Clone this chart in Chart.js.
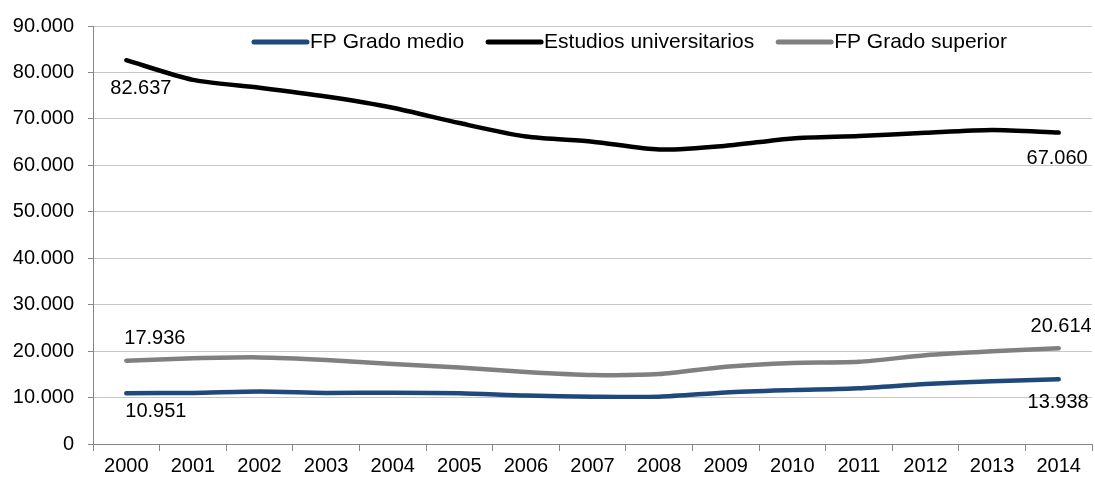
<!DOCTYPE html>
<html>
<head>
<meta charset="utf-8">
<script src="https://cdn.jsdelivr.net/npm/chart.js@4"></script>
<style>
  body { margin: 0; background: #fff; }
  #wrap { width: 1095px; height: 480px; }
</style>
</head>
<body>
<div id="wrap"><canvas id="chart"></canvas></div>
<script>
const years = ["2000", "2001", "2002", "2003", "2004", "2005", "2006", "2007",
               "2008", "2009", "2010", "2011", "2012", "2013", "2014"];
const gradoMedio = [10951, 11000, 11300, 11000, 11050, 10950, 10450, 10200,
                    10200, 11100, 11600, 12000, 12900, 13500, 13938];
const universitarios = [82637, 78400, 76700, 74800, 72400, 69100, 66200, 65100,
                        63400, 64200, 65800, 66300, 67000, 67600, 67060];
const gradoSuperior = [17936, 18450, 18650, 18100, 17200, 16450, 15500, 14850,
                       15050, 16650, 17450, 17700, 19100, 19950, 20614];
const yTicks = [0, 10000, 20000, 30000, 40000, 50000, 60000, 70000, 80000, 90000];

const FONT = "'Liberation Sans', Arial, sans-serif";

function fmt(v) {
    return String(v).replace(/\B(?=(\d{3})+(?!\d))/g, ".");
}

// label offsets for first / last point of each series [dx, dy]
const endLabels = [
    { first: [-1, 18], last: [30, 23] },
    { first: [-16, 28], last: [29, 26] },
    { first: [-2, -22], last: [33, -22] }
];

const endLabelPlugin = {
    id: "endLabels",
    afterDatasetsDraw(chart) {
        const ctx = chart.ctx;
        ctx.save();
        ctx.font = "20px " + FONT;
        ctx.fillStyle = "#000";
        ctx.textBaseline = "middle";
        chart.data.datasets.forEach((ds, i) => {
            const pts = chart.getDatasetMeta(i).data;
            const p0 = pts[0], pN = pts[pts.length - 1];
            const o = endLabels[i];
            ctx.textAlign = "left";
            ctx.fillText(fmt(ds.data[0]), p0.x + o.first[0], p0.y + o.first[1]);
            ctx.textAlign = "right";
            ctx.fillText(fmt(ds.data[ds.data.length - 1]), pN.x + o.last[0], pN.y + o.last[1]);
        });
        ctx.restore();
    }
};

const legendPlugin = {
    id: "inLegend",
    afterDatasetsDraw(chart) {
        const ctx = chart.ctx;
        const area = chart.chartArea;
        ctx.save();
        ctx.font = "21px " + FONT;
        ctx.textBaseline = "middle";
        ctx.textAlign = "left";
        let x = area.left + 161;
        const y = area.top + 16;
        chart.data.datasets.forEach(ds => {
            ctx.strokeStyle = ds.borderColor;
            ctx.lineWidth = 5;
            ctx.lineCap = "round";
            ctx.beginPath();
            ctx.moveTo(x, y);
            ctx.lineTo(x + 53, y);
            ctx.stroke();
            ctx.fillStyle = "#000";
            ctx.fillText(ds.label, x + 56, y);
            x += 56 + ctx.measureText(ds.label).width + 24;
        });
        ctx.restore();
    }
};

new Chart(document.getElementById("chart"), {
    type: "line",
    data: {
        labels: years,
        datasets: [
            { label: "FP Grado medio", data: gradoMedio, borderColor: "#1f497d" },
            { label: "Estudios universitarios", data: universitarios, borderColor: "#000000" },
            { label: "FP Grado superior", data: gradoSuperior, borderColor: "#808080" }
        ]
    },
    options: {
        responsive: true,
        maintainAspectRatio: false,
        animation: false,
        events: [],
        layout: { padding: { top: 10, right: 3, left: 0, bottom: 0 } },
        elements: {
            line: { borderWidth: 4.5, tension: 0.25, borderCapStyle: "round", borderJoinStyle: "round" },
            point: { radius: 0 }
        },
        plugins: { legend: { display: false }, tooltip: { enabled: false } },
        scales: {
            x: {
                offset: true,
                grid: { offset: true, drawOnChartArea: false, tickLength: 7, color: "#868686" },
                border: { color: "#868686" },
                ticks: { color: "#000", font: { family: FONT, size: 20 }, padding: 3, maxRotation: 0, autoSkip: false },
                afterFit: s => { s.height = 36; }
            },
            y: {
                min: 0,
                max: 90000,
                afterBuildTicks: s => { s.ticks = yTicks.map(v => ({ value: v })); },
                grid: { color: "#c6c6c6", tickColor: "#868686", tickLength: 5 },
                border: { color: "#868686" },
                ticks: { color: "#000", font: { family: FONT, size: 20 }, padding: 14, callback: v => fmt(v) },
                afterFit: s => { s.width = 93; }
            }
        }
    },
    plugins: [endLabelPlugin, legendPlugin]
});
</script>
</body>
</html>
